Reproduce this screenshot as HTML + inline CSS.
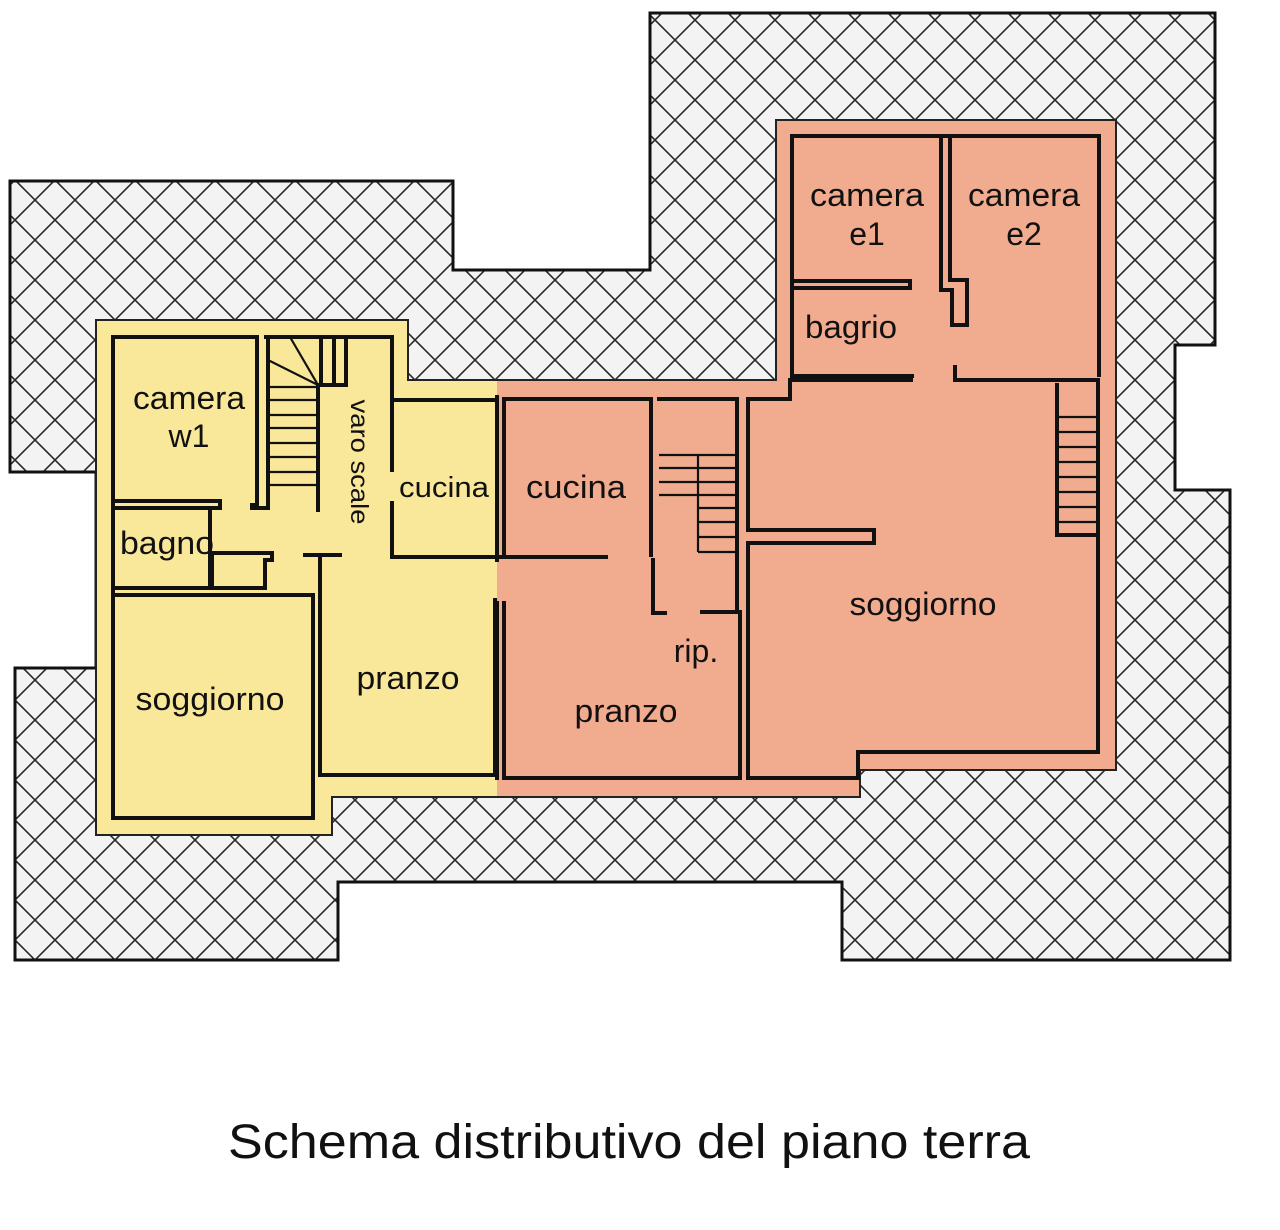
<!DOCTYPE html>
<html><head><meta charset="utf-8"><style>
html,body{margin:0;padding:0;background:#fff;width:1280px;height:1230px;overflow:hidden}
svg{display:block}
text{font-family:"Liberation Sans",sans-serif;fill:#111}
</style></head><body>
<svg width="1280" height="1230" viewBox="0 0 1280 1230" xmlns="http://www.w3.org/2000/svg">
<defs>
<pattern id="h" width="40" height="40" patternUnits="userSpaceOnUse" x="-5" y="0">
<rect width="40" height="40" fill="#f3f3f3"/>
<path d="M0 0L40 40M40 0L0 40" stroke="#2a2a2a" stroke-width="1.6"/>
</pattern>
</defs>
<polygon points="10,181 453,181 453,270 650,270 650,13 1215,13 1215,345 1175,345 1175,490 1230,490 1230,960 842,960 842,882 338,882 338,960 15,960 15,668 96,668 96,472 10,472" fill="url(#h)" stroke="#111" stroke-width="3"/>
<polygon points="96,320 408,320 408,380 497,380 497,797 332,797 332,835 96,835" fill="#f9e79a"/>
<polygon points="497,380 776,380 776,120 1116,120 1116,770 860,770 860,797 497,797" fill="#f1ab8f"/>
<polygon points="96,320 408,320 408,380 776,380 776,120 1116,120 1116,770 860,770 860,797 332,797 332,835 96,835" fill="none" stroke="#222" stroke-width="2"/>
<g stroke="#111" stroke-width="4" fill="none" stroke-linecap="square">
<path d="M113,337 V818 H313 V595 H113"/>
<path d="M113,337 H257 V505 H252"/>
<path d="M113,501 H220 V508 H113"/>
<path d="M210,512 V588 H113"/>
<path d="M212,588 V553 H272 V560 H265 V588 H212"/>
<path d="M266,337 H392 V470 M392,503 V557 H493"/>
<path d="M268,337 V508 H252"/>
<path d="M318,385 V510"/>
<path d="M321,337 V385 M334,337 V385 M346,337 V385 M318,385 H346"/>
<path d="M305,555 H340 M320,555 V775 H495 V600"/>
<path d="M392,400 H493"/>
</g>
<g stroke="#111" stroke-width="2.2">
<path d="M268,387H316M268,400H316M268,415H316M268,428H316M268,443H316M268,457H316M268,472H316M268,485H316"/>
<path d="M290,337L318,385M268,360L318,385"/>
<path d="M659,455H737M659,468H737M659,482H737M659,495H737M698,455V552M698,508H737M698,522H737M698,537H737M698,552H737"/>
<path d="M1057,417H1098M1057,432H1098M1057,447H1098M1057,462H1098M1057,477H1098M1057,492H1098M1057,507H1098M1057,522H1098"/>
</g>
<g stroke="#111" stroke-width="4" fill="none" stroke-linecap="square">
<path d="M497,397 V560 M497,603 V778"/>
<path d="M504,400 V555 M504,603 V778 H740 V612 H702"/>
<path d="M504,399 H647"/>
<path d="M500,557 H606"/>
<path d="M651,399 V555 M653,560 V613 H665"/>
<path d="M659,399 H737 V610"/>
<path d="M748,399 V530 H874 V543 H748 V778 H858 V752 H1098 V380 H955 V367"/>
<path d="M748,399 H790 V380 H911"/>
<path d="M1057,385 V535 H1098"/>
<path d="M792,380 V136 H1099 V375"/>
<path d="M941,136 V290 H952 V325 H967 V280 H950 V136"/>
<path d="M792,281 H910 V288 H792"/>
<path d="M792,376 H912"/>
</g>
<g font-size="32" text-anchor="middle">
<text x="867" y="206" textLength="114" lengthAdjust="spacingAndGlyphs">camera</text>
<text x="867" y="245">e1</text>
<text x="1024" y="206" textLength="112" lengthAdjust="spacingAndGlyphs">camera</text>
<text x="1024" y="245">e2</text>
<text x="851" y="338" textLength="92" lengthAdjust="spacingAndGlyphs">bagrio</text>
<text x="189" y="409" textLength="112" lengthAdjust="spacingAndGlyphs">camera</text>
<text x="189" y="447">w1</text>
<text x="167" y="554" textLength="94" lengthAdjust="spacingAndGlyphs">bagno</text>
<text x="444" y="497" font-size="29" textLength="90" lengthAdjust="spacingAndGlyphs">cucina</text>
<text x="576" y="498" textLength="100" lengthAdjust="spacingAndGlyphs">cucina</text>
<text x="923" y="615" textLength="147" lengthAdjust="spacingAndGlyphs">soggiorno</text>
<text x="696" y="662">rip.</text>
<text x="626" y="722" textLength="103" lengthAdjust="spacingAndGlyphs">pranzo</text>
<text x="408" y="689" textLength="103" lengthAdjust="spacingAndGlyphs">pranzo</text>
<text x="210" y="710" textLength="149" lengthAdjust="spacingAndGlyphs">soggiorno</text>
<text x="0" y="0" font-size="25" transform="translate(351,462) rotate(90)" textLength="125" lengthAdjust="spacingAndGlyphs">varo scale</text>
</g>
<text x="629" y="1158" font-size="48" text-anchor="middle" textLength="802" lengthAdjust="spacingAndGlyphs">Schema distributivo del piano terra</text>
</svg>
</body></html>
